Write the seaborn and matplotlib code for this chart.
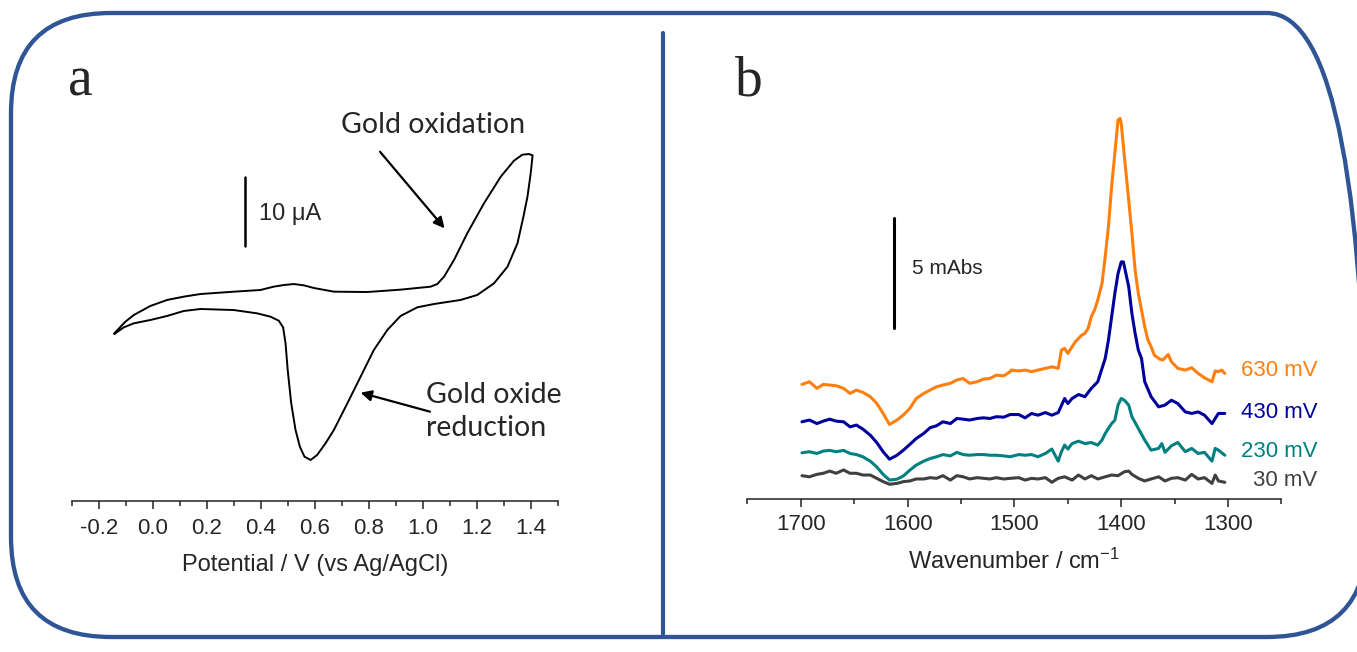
import numpy as np
import pandas as pd
import seaborn as sns
import matplotlib
matplotlib.use("Agg")
import matplotlib.pyplot as plt
from matplotlib.patches import FancyBboxPatch
from matplotlib.lines import Line2D
from matplotlib.transforms import IdentityTransform

# ---------------- data: panel a (cyclic voltammogram) ----------------
cv_potential = [-0.142, -0.126, -0.101, -0.070, -0.009, 0.053, 0.115, 0.177, 0.301, 0.399,
                0.448, 0.486, 0.523, 0.560, 0.597, 0.671, 0.795, 0.918, 1.029, 1.054,
                1.079, 1.116, 1.165, 1.227, 1.289, 1.338, 1.369, 1.394, 1.407,
                1.400, 1.388, 1.373, 1.351, 1.314, 1.264, 1.202, 1.140, 1.042, 0.980,
                0.918, 0.869, 0.819, 0.770, 0.721, 0.671, 0.640, 0.609, 0.585, 0.562,
                0.545, 0.529, 0.513, 0.500, 0.492, 0.483, 0.467, 0.436, 0.387, 0.300,
                0.177, 0.115, 0.053, -0.009, -0.070, -0.107, -0.142]
cv_current = [-5.96, -5.30, -4.28, -3.32, -2.02, -1.15, -0.67, -0.29, 0.05, 0.29,
              0.77, 1.01, 1.15, 0.96, 0.58, 0.05, 0.00, 0.34, 0.77, 1.15,
              2.21, 4.62, 8.47, 12.80, 16.64, 18.95, 19.82, 19.91, 19.72,
              17.13, 13.75, 10.87, 7.03, 3.65, 1.25, -0.43, -1.15, -1.73, -2.21,
              -3.46, -5.48, -8.37, -12.22, -16.06, -19.91, -21.84, -23.52, -24.24, -23.76,
              -22.32, -19.91, -16.06, -11.26, -7.41, -5.10, -4.14, -3.56, -3.08, -2.60,
              -2.45, -2.74, -3.46, -4.04, -4.52, -5.10, -6.06]
cv_ticks = [-0.2, 0.0, 0.2, 0.4, 0.6, 0.8, 1.0, 1.2, 1.4]

# ---------------- data: panel b (IR spectra, mAbs) ----------------
wn_low = [1699, 1692, 1685, 1679, 1673, 1667, 1660, 1654, 1648, 1642, 1635, 1629, 1623,
          1617, 1610, 1604, 1598, 1592, 1585, 1579, 1573, 1567, 1560, 1554, 1548, 1542,
          1535, 1529, 1523, 1517, 1510, 1504]

wn_630 = wn_low + [1503, 1496, 1490, 1484, 1478, 1471, 1465, 1459, 1456, 1453, 1450, 1446,
                   1443, 1437, 1434, 1431, 1428, 1425, 1422, 1418, 1415, 1412, 1409, 1406,
                   1403, 1401, 1400, 1397, 1393, 1390, 1387, 1384, 1381, 1378, 1375, 1372,
                   1369, 1364, 1361, 1356, 1353, 1347, 1340, 1334, 1328, 1322, 1315, 1312,
                   1309, 1306, 1303]
abs_630 = [0, 0.12, -0.18, 0, -0.03, -0.06, -0.18, -0.41, -0.26, -0.36, -0.56, -0.86, -1.32,
           -1.82, -1.62, -1.39, -1.09, -0.64, -0.41, -0.26, -0.11, -0.03, 0.05, 0.20, 0.27, 0.05,
           0.12, 0.24, 0.27, 0.42, 0.39, 0.58,
           0.65, 0.61, 0.65, 0.58, 0.65, 0.73, 0.80, 0.73, 1.56, 1.64, 1.41, 1.71,
           1.94, 2.24, 2.32, 2.55, 3.08, 3.38, 3.83, 4.59, 5.80, 7.17, 8.98, 10.5,
           12.02, 12.09, 11.86, 10.35, 8.38, 6.86, 5.20, 4.14, 3.38, 2.62, 2.02, 1.71,
           1.33, 1.15, 1.11, 1.36, 1.03, 0.73, 0.65, 0.76, 0.50, 0.30, 0.12, 0.61,
           0.58, 0.65, 0.50]

wn_430 = wn_low + [1496, 1490, 1484, 1478, 1471, 1465, 1459, 1453, 1450, 1446, 1440, 1434,
                   1428, 1422, 1415, 1412, 1409, 1406, 1403, 1400, 1398, 1397, 1393, 1390,
                   1387, 1384, 1381, 1378, 1372, 1365, 1359, 1353, 1347, 1340, 1334, 1328,
                   1322, 1315, 1309, 1303]
abs_430 = [0, 0.08, -0.08, 0.03, 0.12, 0.03, 0, -0.23, -0.15, -0.33, -0.61, -0.94, -1.36,
           -1.70, -1.52, -1.29, -1.03, -0.76, -0.53, -0.27, -0.18, 0, -0.08, 0.15, 0.12, 0.08,
           0.15, 0.18, 0.15, 0.23, 0.21, 0.33,
           0.33, 0.18, 0.38, 0.30, 0.42, 0.30, 0.42, 1.06, 0.83, 1.06, 1.24, 1.14,
           1.52, 1.82, 2.88, 3.71, 4.77, 5.83, 6.74, 7.27, 7.27, 7.05, 6.14, 4.92,
           4.02, 3.26, 2.88, 1.82, 1.14, 0.68, 0.76, 0.98, 0.83, 0.45, 0.38, 0.45,
           0.30, -0.08, 0.38, 0.38]

wn_230 = wn_low + [1496, 1490, 1484, 1478, 1471, 1465, 1459, 1456, 1453, 1450, 1446, 1440,
                   1434, 1428, 1422, 1418, 1415, 1409, 1406, 1403, 1400, 1397, 1393, 1390,
                   1384, 1378, 1372, 1365, 1362, 1359, 1353, 1347, 1340, 1334, 1328, 1322,
                   1315, 1312, 1309, 1303]
abs_230 = [0, 0.05, -0.03, 0.08, 0.11, 0.05, 0.11, -0.03, -0.08, -0.18, -0.38, -0.64, -0.98,
           -1.24, -1.20, -1.05, -0.79, -0.56, -0.38, -0.26, -0.18, -0.08, -0.14, 0.02, -0.08,
           -0.11, -0.08, -0.08, -0.11, -0.11, -0.14, -0.18,
           -0.08, -0.11, -0.08, -0.18, -0.03, 0.17, -0.38, 0.05, 0.35, 0.17, 0.42, 0.53,
           0.42, 0.47, 0.35, 0.58, 0.88, 1.33, 1.48, 2.17, 2.47, 2.39, 2.17, 1.64,
           1.11, 0.58, 0.12, 0.20, 0.42, 0.02, 0.32, 0.47, 0.05, 0.20, -0.03, 0.02,
           -0.38, 0.20, 0.12, -0.11]

wn_30 = wn_low + [1496, 1490, 1484, 1478, 1471, 1465, 1459, 1453, 1446, 1440, 1434, 1428,
                  1422, 1415, 1409, 1403, 1397, 1393, 1390, 1384, 1378, 1372, 1365, 1359,
                  1353, 1347, 1340, 1334, 1328, 1322, 1315, 1312, 1309, 1303]
abs_30 = [0, -0.05, 0.06, 0.11, 0.21, 0.11, 0.26, 0.11, 0.11, 0.03, 0.03, -0.12, -0.27,
          -0.39, -0.35, -0.27, -0.24, -0.15, -0.15, -0.09, -0.12, 0, -0.20, 0, -0.05, -0.15,
          -0.09, -0.12, -0.15, -0.09, -0.15, -0.12,
          -0.09, -0.20, -0.12, -0.15, -0.09, -0.30, -0.12, -0.05, -0.20, 0.03, -0.15, 0,
          -0.15, -0.05, 0.03, 0, 0.18, 0.21, 0.06, -0.12, -0.24, -0.15, -0.05, -0.24,
          -0.12, -0.09, -0.20, 0.06, -0.15, -0.09, -0.35, 0.03, -0.24, -0.30]

series_labels = ["630 mV", "430 mV", "230 mV", "30 mV"]
series_offsets = [5.21, 3.51, 2.10, 1.06]
series_colors = ["#FF7F0E", "#00009C", "#008080", "#404040"]
label_levels = [5.86, 3.91, 2.15, 0.86]
wn_ticks = [1700, 1600, 1500, 1400, 1300]

# ---------------- style ----------------
sns.set_style("white")
plt.rcParams["font.family"] = ["Liberation Sans", "DejaVu Sans"]
plt.rcParams["mathtext.fontset"] = "custom"
plt.rcParams["mathtext.rm"] = "Liberation Sans"
plt.rcParams["mathtext.it"] = "Liberation Sans"
ANN_FONT = ["Lato", "DejaVu Sans"]

W, H = 1357, 652
fig = plt.figure(figsize=(W / 100, H / 100), dpi=100)
fig.patch.set_facecolor("white")

ARROW = dict(arrowstyle="-|>", color="black", lw=1.6, mutation_scale=16,
             shrinkA=0, shrinkB=0)

# ---------------- panel a ----------------
ax1 = fig.add_axes([71.7 / W, (H - 501) / H, 486 / W, 401 / H])
cv = pd.DataFrame({"E": cv_potential, "I": cv_current})
sns.lineplot(data=cv, x="E", y="I", sort=False, estimator=None, color="black",
             lw=1.4, ax=ax1)
ax1.set_xlim(-0.3, 1.5)
ax1.set_ylim(-30.16, 27.71)
ax1.set_xticks(cv_ticks)
ax1.set_xticklabels([f"{t:.1f}" for t in cv_ticks])
ax1.set_xticks(np.arange(-0.3, 1.51, 0.1), minor=True)
ax1.set_yticks([])
ax1.set_xlabel("Potential / V (vs Ag/AgCl)", fontsize=17, labelpad=11)
ax1.set_ylabel("")
sns.despine(ax=ax1, left=True)
ax1.spines["bottom"].set_linewidth(1.1)
ax1.spines["bottom"].set_color("#222222")
ax1.tick_params(axis="x", which="major", direction="out", length=6, width=1.1,
                labelsize=16, pad=6, color="#222222", bottom=True)
ax1.tick_params(axis="x", which="minor", direction="out", length=3.5, width=1.1,
                color="#222222", bottom=True)
# scale bar 10 uA
ax1.plot([0.34, 0.34], [6.64, 16.64], color="black", lw=1.8)
ax1.text(0.392, 11.26, "10 \u03bcA", fontsize=17, va="center", ha="left")
# annotations
ax1.text(0.696, 24.1, "Gold oxidation", fontsize=20.5, family=ANN_FONT, ha="left",
         va="center")
ax1.annotate("", xy=(1.081, 9.19), xytext=(0.842, 20.24), arrowprops=ARROW)
ax1.text(1.011, -17.24, "Gold oxide\nreduction", fontsize=20.5, family=ANN_FONT,
         ha="left", va="center", linespacing=1.3)
ax1.annotate("", xy=(0.770, -14.53), xytext=(1.027, -17.27), arrowprops=ARROW)

# ---------------- panel b ----------------
ax2 = fig.add_axes([747.5 / W, (H - 499) / H, 533.9 / W, 399 / H])
wns = [wn_630, wn_430, wn_230, wn_30]
absv = [abs_630, abs_430, abs_230, abs_30]
for lab, w, a, off, col in zip(series_labels, wns, absv, series_offsets, series_colors):
    d = pd.DataFrame({"wn": w, "A": np.array(a) + off})
    sns.lineplot(data=d, x="wn", y="A", sort=False, estimator=None, color=col,
                 lw=2.2, ax=ax2)
for lab, lvl, col in zip(series_labels, label_levels, series_colors):
    ax2.text(1216, lvl, lab, color=col, fontsize=16, ha="right", va="center",
             clip_on=False)
ax2.set_xlim(1750, 1250)
ax2.set_ylim(0, 18.14)
ax2.set_xticks(wn_ticks)
ax2.set_xticks(np.arange(1250, 1751, 50), minor=True)
ax2.set_yticks([])
ax2.set_xlabel(r"Wavenumber / cm$^{\mathregular{-1}}$", fontsize=17, labelpad=10)
ax2.set_ylabel("")
sns.despine(ax=ax2, left=True)
ax2.spines["bottom"].set_linewidth(1.1)
ax2.spines["bottom"].set_color("#222222")
ax2.tick_params(axis="x", which="major", direction="out", length=6, width=1.1,
                labelsize=16, pad=5, color="#222222", bottom=True)
ax2.tick_params(axis="x", which="minor", direction="out", length=3.5, width=1.1,
                color="#222222", bottom=True)
# scale bar 5 mAbs
ax2.plot([1613, 1613], [7.76, 12.76], color="black", lw=2.2)
ax2.text(1596, 10.5, "5 mAbs", fontsize=15, ha="left", va="center")

# ---------------- panel letters, frame, divider ----------------
fig.text(68 / W, (H - 95) / H, "a", fontsize=40, family="Liberation Serif",
         ha="left", va="baseline")
fig.text(735 / W, (H - 95) / H, "b", fontsize=40, family="Liberation Serif",
         ha="left", va="baseline")

frame = FancyBboxPatch((11, H - 637), 1356, 624,
                       boxstyle="round,pad=0,rounding_size=100",
                       transform=IdentityTransform(), fill=False,
                       edgecolor="#2F5597", lw=3.1)
fig.add_artist(frame)
fig.add_artist(Line2D([663, 663], [H - 33, H - 634], transform=IdentityTransform(),
                      color="#2F5597", lw=3.0))

fig.savefig("out.png", dpi=100)
